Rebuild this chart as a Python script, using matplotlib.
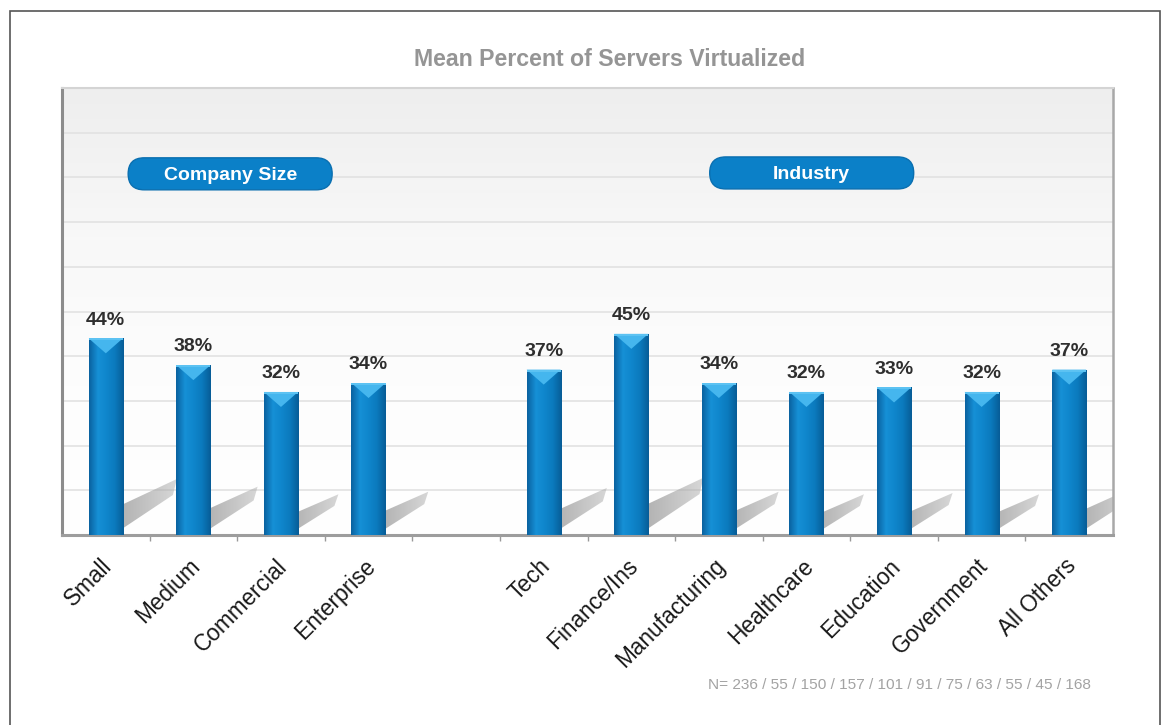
import numpy as np
import matplotlib
matplotlib.use('Agg')
import matplotlib.pyplot as plt
import matplotlib.transforms as mtransforms
from matplotlib.patches import Polygon, Rectangle, FancyBboxPatch
from matplotlib.colors import LinearSegmentedColormap

plt.rcParams['font.family'] = ['Liberation Sans', 'DejaVu Sans']

# data
size_labels = ['Small', 'Medium', 'Commercial', 'Enterprise']
size_values = [44, 38, 32, 34]
industry_labels = ['Tech', 'Finance/Ins', 'Manufacturing', 'Healthcare',
                   'Education', 'Government', 'All Others']
industry_values = [37, 45, 34, 32, 33, 32, 37]
sample_sizes = [236, 55, 150, 157, 101, 91, 75, 63, 55, 45, 168]

# one empty slot between the two groups
labels = size_labels + [''] + industry_labels
values = size_values + [np.nan] + industry_values
x = np.arange(len(labels))

W, H = 1168, 725
fig = plt.figure(figsize=(W / 100, H / 100), dpi=100)
ax = fig.add_axes([62 / W, 1 - 535 / H, (1113 - 62) / W, (535 - 88) / H])
xmin, xmax = -0.5, len(labels) - 0.5
ymin, ymax = 0, 100

# pixels per data unit, used for shadows and bar caps
ppx = ax.bbox.width / (xmax - xmin)
ppy = ax.bbox.height / (ymax - ymin)

# plot background: light grey fading to white at the floor
bg = np.linspace(0, 1, 256).reshape(-1, 1)
bg_cmap = LinearSegmentedColormap.from_list('bg', ['#ffffff', '#fdfdfd', '#f8f8f8', '#eeeeee'])
ax.imshow(bg, extent=(xmin, xmax, ymin, ymax), origin='lower', aspect='auto',
          cmap=bg_cmap, zorder=0)

ax.set_yticks(np.arange(0, 101, 10))
ax.yaxis.grid(True, color='#e2e2e2', lw=1.2, zorder=1)
ax.tick_params(axis='y', length=0, labelleft=False)

bar_w = 0.39
bar_cmap = LinearSegmentedColormap.from_list(
    'bar', ['#0a62a0', '#1690d6', '#0f86cc', '#0b7abd', '#075d97'])
hgrad = np.linspace(0, 1, 64).reshape(1, -1)

shadow_rgba = np.zeros((2, 64, 4))
shadow_rgba[..., :3] = 0.66
shadow_rgba[..., 3] = np.linspace(0.95, 0.45, 64)[None, :]

for xi, v in zip(x, values):
    if np.isnan(v):
        continue
    x0, x1 = xi - bar_w / 2, xi + bar_w / 2
    k = v / 44.0

    # slanted floor shadow behind the bar
    dx = 50 * k / ppx
    sx0, sx1 = x1 - 10 / ppx, x1 + dx + 4 / ppx
    sh = Polygon([(sx0, 0), (x1 + dx, 40 * k / ppy),
                  (sx1, 56 * k / ppy), (sx0, 26 * k / ppy)],
                 closed=True, facecolor='none', edgecolor='none')
    ax.add_patch(sh)
    im = ax.imshow(shadow_rgba, extent=(sx0, sx1, 0, 56 * k / ppy),
                   aspect='auto', zorder=2, interpolation='bilinear')
    im.set_clip_path(sh)

    # bar body with horizontal shading
    body = Rectangle((x0, 0), bar_w, v, facecolor='none', edgecolor='none')
    ax.add_patch(body)
    im = ax.imshow(hgrad, extent=(x0, x1, 0, v), aspect='auto', cmap=bar_cmap,
                   zorder=3, interpolation='bilinear')
    im.set_clip_path(body)

    # light cap at the top of the bar
    cap_d = 15 / ppy
    ax.add_patch(Polygon([(x0, v), (x1, v), (xi, v - cap_d)], closed=True,
                         facecolor='#45b6ee', edgecolor='none', zorder=4))
    ax.add_patch(Rectangle((x0, v - 2 / ppy), bar_w, 2 / ppy,
                           facecolor='#5cc2f2', edgecolor='none', zorder=4))

    ax.annotate(f'{v:.0f}%', (xi, v), xytext=(0, 7), textcoords='offset points',
                ha='center', va='bottom', fontsize=14, fontweight='bold',
                color='#2e2e2e', zorder=5)

ax.set_xlim(xmin, xmax)
ax.set_ylim(ymin, ymax)

# category labels at slot centres, small ticks at slot boundaries
ax.set_xticks(x)
ax.set_xticklabels(labels, rotation=45, ha='right', rotation_mode='anchor',
                   fontsize=16.3, color='#1a1a1a')
ax.tick_params(axis='x', which='major', length=0, pad=14)
shift = mtransforms.ScaledTranslation(-5 / 100, 0, fig.dpi_scale_trans)
for lbl in ax.get_xticklabels():
    lbl.set_transform(lbl.get_transform() + shift)
ax.set_xticks(np.arange(0.5, len(labels) - 0.5, 1), minor=True)
ax.tick_params(axis='x', which='minor', length=4, width=1, color='#999999', direction='out')

ax.spines['bottom'].set_color('#9d9d9d')
ax.spines['bottom'].set_linewidth(2.2)
ax.spines['left'].set_color('#8c8c8c')
ax.spines['left'].set_linewidth(2.2)
ax.spines['top'].set_color('#d4d4d4')
ax.spines['top'].set_linewidth(1.5)
ax.spines['right'].set_color('#a8a8a8')
ax.spines['right'].set_linewidth(1.8)


def pill(text, cx, cy, w=204, h=32):
    """Rounded blue header tag, centre given in data coordinates, size in pixels."""
    px, py = ax.transData.transform((cx, cy))
    r = h / 2 / 100
    box = FancyBboxPatch(((px - w / 2) / 100 + r, (py - h / 2) / 100 + r),
                         w / 100 - 2 * r, h / 100 - 2 * r,
                         boxstyle=f'round,pad={r},rounding_size={r}',
                         transform=fig.dpi_scale_trans, facecolor='#0b80c8',
                         edgecolor='#0a6fb0', lw=1, zorder=6)
    fig.add_artist(box)
    fig.text(px / W, py / H - 1.5 / H, text, ha='center', va='center', fontsize=14,
             fontweight='bold', color='white', zorder=7)


pill('Company Size', 1.42, 80.8)
pill('Industry', 8.06, 81.0)

fig.text(610 / W, 1 - 60 / H, 'Mean Percent of Servers Virtualized', ha='center',
         va='center', fontsize=16.7, fontweight='bold', color='#959595')

fig.text(899 / W, 1 - 685 / H, 'N= ' + ' / '.join(str(n) for n in sample_sizes),
         ha='center', va='center', fontsize=11.1, color='#a3a3a3')

# thin frame round the whole slide
fig.add_artist(Rectangle((10 / W, -0.05), 1150 / W, 1.05 - 11 / H, transform=fig.transFigure,
                         facecolor='none', edgecolor='#555555', lw=1.2))

fig.savefig('out.png', dpi=100)
